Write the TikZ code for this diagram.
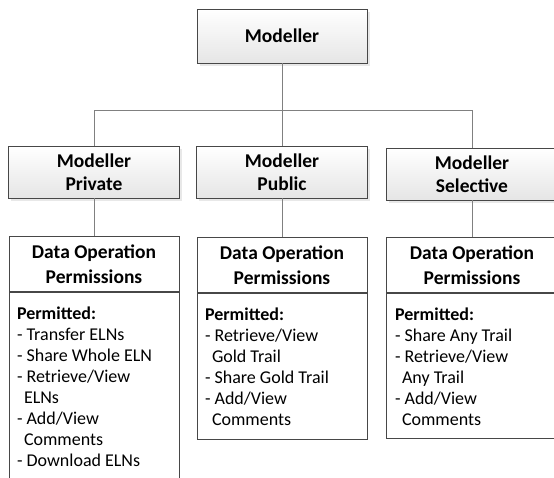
\documentclass[tikz,border=0pt]{standalone}
\usepackage{fontspec}
\setmainfont{Carlito}
\usepackage{tikz}
\usetikzlibrary{positioning}
\usetikzlibrary{shadows}

% body of a permission box: fixed height, text from the top
\newcommand\permlist[2]{\parbox[t][#1][t]{154pt}{\rule{0pt}{27pt}#2}}
\newcommand\wrapin{\hspace*{7pt}}

\tikzset{
  boxline/.style={draw=black!72, line width=0.9pt},
  orgbox/.style={boxline, top color=white, bottom color=black!10,
    drop shadow={opacity=0.18, shadow xshift=2.5pt, shadow yshift=-2.5pt},
    minimum width=171pt, minimum height=52pt, inner sep=0pt, align=center,
    font=\fontsize{19.5}{23.5}\selectfont\bfseries},
  permhead/.style={boxline, fill=white, minimum width=170pt, minimum height=55pt,
    inner sep=0pt, align=center, font=\fontsize{19.5}{25}\selectfont\bfseries},
  permbody/.style={boxline, fill=white, inner xsep=8pt, inner ysep=0pt,
    font=\fontsize{18}{21}\selectfont},
  link/.style={draw=black!50, line width=0.9pt},
}

\begin{document}
\begin{tikzpicture}[x=1pt, y=-1pt]
	\useasboundingbox (0,0) rectangle (554,477);
	\clip (0,0) rectangle (554,477);
	% Modeller
	\node[orgbox, minimum width=170pt, minimum height=54pt] (modeller) at (282,36) {Modeller};
	% modes
	\node[orgbox] (private) at (94,172) {Modeller\\Private};
	\node[orgbox] (public) at (282,172) {Modeller\\Public};
	\node[orgbox] (selective) at (472,174) {Modeller\\Selective};
	\coordinate (bus) at (282,110);
	\draw[link] (modeller.south) -- (bus) -| (private.north);
	\draw[link] (bus) -| (selective.north);
	\draw[link] (bus) -- (public.north);
	% Private permissions
	\node[permhead, below=38pt of private] (privhead) {Data Operation\\Permissions};
	\node[permbody, below=0pt of privhead] (privbody) {\permlist{200pt}{\textbf{Permitted:}\\
		- Transfer ELNs\\- Share Whole ELN\\- Retrieve/View\\\wrapin ELNs\\
		- Add/View\\\wrapin Comments\\- Download ELNs}};
	\draw[link] (private.south) -- (privhead.north);
	% Public permissions
	\node[permhead, below=39pt of public] (pubhead) {Data Operation\\Permissions};
	\node[permbody, below=0pt of pubhead] (pubbody) {\permlist{146pt}{\textbf{Permitted:}\\
		- Retrieve/View\\\wrapin Gold Trail\\- Share Gold Trail\\
		- Add/View\\\wrapin Comments}};
	\draw[link] (public.south) -- (pubhead.north);
	% Selective permissions
	\node[permhead, minimum width=171pt, below=37pt of selective] (selhead) {Data Operation\\Permissions};
	\node[permbody, inner xsep=8.5pt, below=0pt of selhead] (selbody) {\permlist{145pt}{\textbf{Permitted:}\\
		- Share Any Trail\\- Retrieve/View\\\wrapin Any Trail\\
		- Add/View\\\wrapin Comments}};
	\draw[link] (selective.south) -- (selhead.north);
\end{tikzpicture}
\end{document}
